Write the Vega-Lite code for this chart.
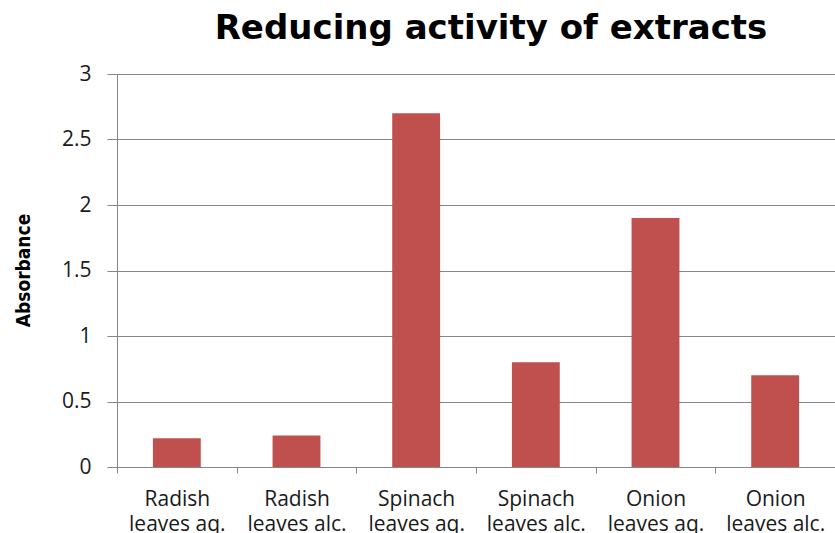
{
  "$schema": "https://vega.github.io/schema/vega-lite/v6.json",
  "width": 718,
  "height": 393,
  "autosize": {"type": "none"},
  "padding": {"left": 117, "top": 74, "right": 0, "bottom": 66},
  "background": "white",
  "title": {
    "text": "Reducing activity of extracts",
    "anchor": "middle",
    "dx": 15,
    "offset": -10,
    "baseline": "alphabetic",
    "font": "DejaVu Sans",
    "fontSize": 34,
    "fontWeight": "bold",
    "color": "#000000"
  },
  "data": {
    "values": [
      {"extract": "Radish leaves aq.", "absorbance": 0.22},
      {"extract": "Radish leaves alc.", "absorbance": 0.24},
      {"extract": "Spinach leaves aq.", "absorbance": 2.7},
      {"extract": "Spinach leaves alc.", "absorbance": 0.8},
      {"extract": "Onion leaves aq.", "absorbance": 1.9},
      {"extract": "Onion leaves alc.", "absorbance": 0.7}
    ]
  },
  "mark": {"type": "bar", "color": "#C0504D"},
  "encoding": {
    "x": {
      "field": "extract",
      "type": "nominal",
      "sort": null,
      "scale": {"paddingInner": 0.6, "paddingOuter": 0.3},
      "axis": {
        "title": null,
        "labelAngle": 0,
        "labelExpr": "[slice(datum.value, 0, indexof(datum.value, ' ')), slice(datum.value, indexof(datum.value, ' ') + 1)]",
        "labelFont": "Open Sans",
        "labelFontSize": 21,
        "labelColor": "#1a1a1a",
        "labelLineHeight": 25,
        "labelPadding": 15,
        "labelBaseline": "top",
        "tickOffset": -60,
        "labelOffset": 60,
        "tickSize": 6,
        "tickColor": "#868686",
        "domainColor": "#868686",
        "labelOverlap": false
      }
    },
    "y": {
      "field": "absorbance",
      "type": "quantitative",
      "scale": {"domain": [0, 3], "nice": false},
      "axis": {
        "title": "Absorbance",
        "values": [0, 0.5, 1, 1.5, 2, 2.5, 3],
        "format": "~g",
        "titleFont": "Liberation Sans Narrow, DejaVu Sans Condensed, Roboto",
        "titleFontSize": 19,
        "titleFontWeight": "bold",
        "titleColor": "#000000",
        "titleX": -94,
        "titleY": 196,
        "titleAngle": -90,
        "titleAlign": "center",
        "titleBaseline": "middle",
        "labelFont": "Open Sans",
        "labelFontSize": 21,
        "labelColor": "#1a1a1a",
        "labelPadding": 16,
        "tickSize": 10,
        "tickColor": "#868686",
        "domainColor": "#868686",
        "grid": true,
        "gridColor": "#868686"
      }
    }
  },
  "config": {
    "view": {"stroke": null}
  }
}
